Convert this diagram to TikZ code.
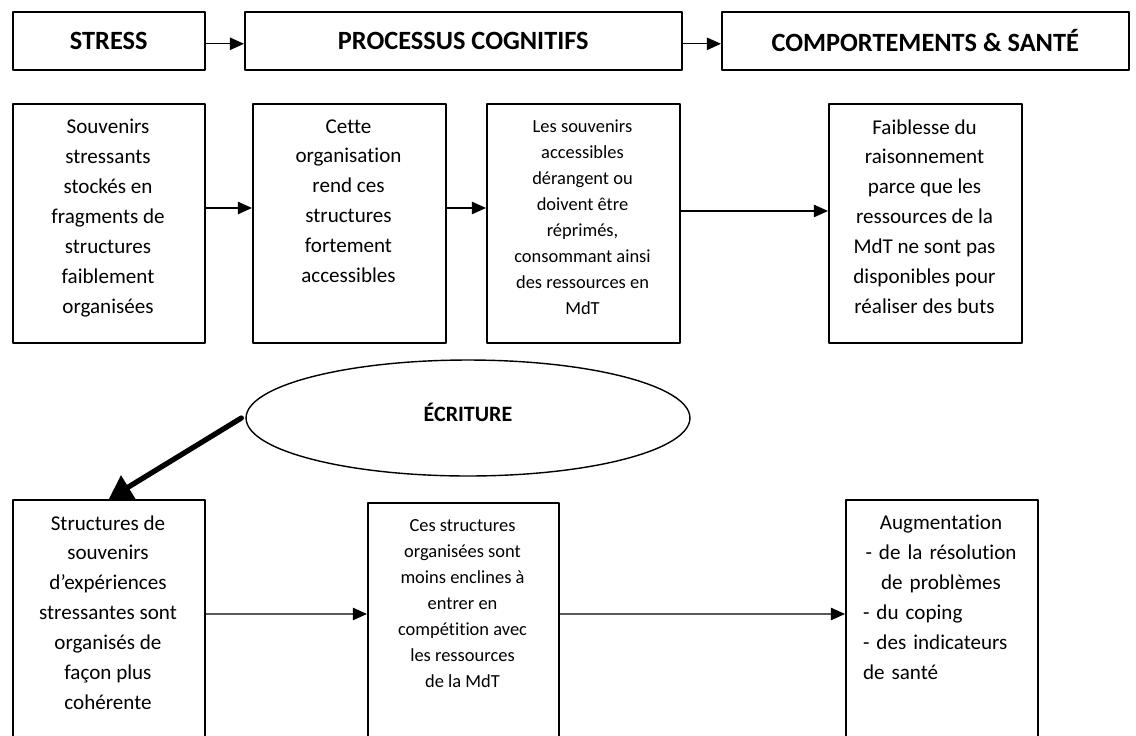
\documentclass[tikz,border=0pt]{standalone}
\usepackage{fontspec}
\setmainfont{Carlito}[Ligatures={NoCommon,NoContextual}]
\usetikzlibrary{arrows.meta}
\usetikzlibrary{shapes}

\tikzset{
  cadre/.style={draw, line width=0.9pt, inner sep=0pt, anchor=north west},
  titre/.style={font=\fontsize{15}{18}\selectfont\bfseries},
  texte/.style={font=\fontsize{12}{17}\selectfont, align=center, inner sep=0pt, anchor=north},
  petit/.style={font=\fontsize{10.5}{14.8}\selectfont, align=center, inner sep=0pt, anchor=north},
}
\newcommand{\gauche}[1]{\makebox[\linewidth][l]{#1}}

\begin{document}
\begin{tikzpicture}[x=0.02cm, y=-0.02cm, line cap=round, line join=round, >={Triangle[length=8pt,width=7pt]}]
\path[use as bounding box, clip] (0,0) rectangle (1136,735);

% en-tete
\node[cadre, minimum width=3.84cm, minimum height=1.16cm] (h1) at (12,11) {};
\node[titre] at (h1) {STRESS};
\node[cadre, minimum width=8.74cm, minimum height=1.16cm] (h2) at (244,11) {};
\node[titre] at (h2) {PROCESSUS COGNITIFS};
\node[cadre, minimum width=8.14cm, minimum height=1.16cm] (h3) at (721,11) {};
\node[titre] at (h3) {COMPORTEMENTS \& SANTÉ};

\draw[->, line width=0.8pt] ([yshift=-0.06cm]h1.east) -- ([yshift=-0.06cm]h2.west);
\draw[->, line width=0.8pt] ([yshift=-0.06cm]h2.east) -- ([yshift=-0.06cm]h3.west);

% stress
\node[cadre, minimum width=3.84cm, minimum height=4.78cm] (m1) at (12,103) {};
\node[texte] (tm1) at (108,119) {Souvenirs\\ stressants\\ stockés en\\ fragments de\\ structures\\ faiblement\\ organisées};

\node[cadre, minimum width=3.86cm, minimum height=4.78cm] (m2) at (252,103) {};
\node[texte] (tm2) at (348.5,119) {Cette\\ organisation\\ rend ces\\ structures\\ fortement\\ accessibles};

\node[cadre, minimum width=3.86cm, minimum height=4.78cm] (m3) at (486,103) {};
\node[petit] (tm3) at (582.5,119) {Les souvenirs\\ accessibles\\ dérangent ou\\ doivent être\\ réprimés,\\ consommant ainsi\\ des ressources en\\ MdT};

\node[cadre, minimum width=3.86cm, minimum height=4.78cm] (m4) at (828,103) {};
\node[texte] (tm4) at (924.5,119) {Faiblesse du\\ raisonnement\\ parce que les\\ ressources de la\\ MdT ne sont pas\\ disponibles pour\\ réaliser des buts};

\draw[->, line width=0.8pt] ([yshift=-2.1cm]m1.north east) -- ([yshift=-2.1cm]m2.north west);
\draw[->, line width=0.8pt] ([yshift=-2.1cm]m2.north east) -- ([yshift=-2.1cm]m3.north west);
\draw[->, line width=0.8pt] ([yshift=-2.16cm]m3.north east) -- ([yshift=-2.16cm]m4.north west);

% ecriture
\node[draw, ellipse, line width=0.8pt, minimum width=8.88cm, minimum height=2.32cm,
  label={[titre, font=\fontsize{12.5}{15}\selectfont\bfseries, yshift=0.12cm]center:ÉCRITURE}] (ecr) at (468,418) {};

\node[cadre, minimum width=3.84cm, minimum height=5cm] (b1) at (12,499) {};
\node[texte] (tb1) at (108,515) {Structures de\\ souvenirs\\ d’expériences\\ stressantes sont\\ organisés de\\ façon plus\\ cohérente};

\node[cadre, minimum width=3.82cm, minimum height=5cm] (b2) at (367,502) {};
\node[petit] (tb2) at (462.5,519) {Ces structures\\ organisées sont\\ moins enclines à\\ entrer en\\ compétition avec\\ les ressources\\ de la MdT};

\node[cadre, minimum width=3.84cm, minimum height=5cm] (b3) at (845,499) {};
\node[texte, text width=3.12cm] (tb3) at (941,515) {Augmentation\\ - de la résolution\\ de problèmes\\ \gauche{- du coping}\\ \gauche{- des indicateurs}\\ \gauche{de santé}};

\draw[->, line width=3pt, >={Triangle[length=13pt,width=15pt]}] ([xshift=-0.08cm]ecr.west) -- (b1.north);
\draw[->, line width=0.8pt] ([yshift=-2.3cm]b1.north east) -- ([yshift=-2.24cm]b2.north west);
\draw[->, line width=0.8pt] ([yshift=-2.24cm]b2.north east) -- ([yshift=-2.3cm]b3.north west);

\end{tikzpicture}
\end{document}
